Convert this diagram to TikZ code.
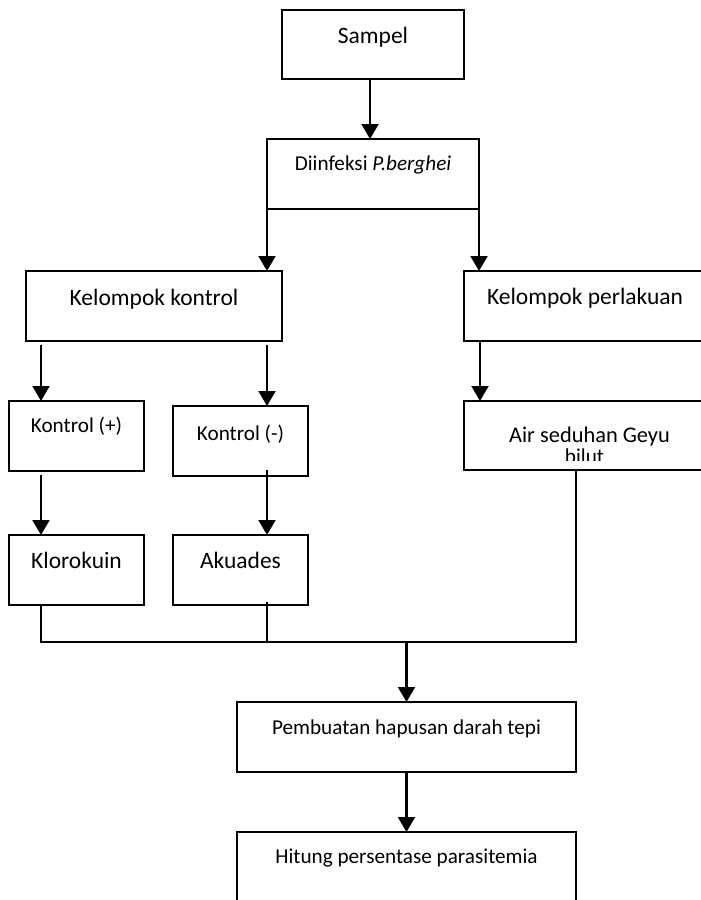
\documentclass[tikz,border=0pt]{standalone}
\usepackage{fontspec}
\setmainfont{Carlito}
\usetikzlibrary{arrows.meta}
\begin{document}
\begin{tikzpicture}[x=1bp,y=-1bp,
  box/.style={draw, line width=1.8bp, rectangle, inner sep=0pt, outer sep=0pt},
  big/.style={font=\fontsize{23.5bp}{28bp}\selectfont},
  small/.style={font=\fontsize{21.2bp}{25bp}\selectfont},
  mid/.style={font=\fontsize{22.4bp}{26bp}\selectfont},
  arr/.style={line width=2.1bp, -{Triangle[width=17bp,length=15bp]}},
  joinline/.style={line width=1.4bp}]
\useasboundingbox (0,0) rectangle (701,900);
% boxes: minimum width/height, text height = top-to-baseline, text depth = rest
\node[box,big,minimum width=182bp,minimum height=69bp,text height=33bp,text depth=36bp] (sampel) at (373,44.5) {Sampel};
\node[box,small,minimum width=212bp,minimum height=70bp,text height=31bp,text depth=39bp] (diinf) at (373,174) {Diinfeksi \textit{P.berghei}};
\node[box,big,minimum width=256bp,minimum height=70bp,text height=34bp,text depth=36bp] (kk) at (154,306) {Kelompok kontrol};
\node[box,big,minimum width=242bp,minimum height=70bp,text height=33bp,text depth=37bp] (kp) at (585,306) {Kelompok perlakuan};
\node[box,small,minimum width=135bp,minimum height=70bp,text height=31bp,text depth=39bp] (kplus) at (76.5,436) {Kontrol (+)};
\node[box,small,minimum width=135bp,minimum height=70bp,text height=34bp,text depth=36bp] (kminus) at (240.5,441) {Kontrol (-)};
\node[box,big,minimum width=135bp,minimum height=70bp,text height=33bp,text depth=37bp] (klor) at (76.5,570) {Klorokuin};
\node[box,big,minimum width=135bp,minimum height=70bp,text height=33bp,text depth=37bp] (akua) at (240.5,570) {Akuades};
\node[box,mid,minimum width=242bp,minimum height=69bp,text height=41bp,text depth=28bp] (air) at (585,435.5) {\hspace*{9bp}Air seduhan Geyu};
\begin{scope}
  \clip (470,440) rectangle (700,460);
  \node[small,inner sep=0pt,anchor=base] (bilut) at (584.5,463) {bilut};
\end{scope}
\node[box,small,minimum width=339bp,minimum height=70bp,text height=32bp,text depth=38bp] (pemb) at (406.5,737) {Pembuatan hapusan darah tepi};
\node[box,small,minimum width=339bp,minimum height=70bp,text height=31bp,text depth=39bp] (hitung) at (406.5,867) {Hitung persentase parasitemia};
% arrows
\draw[arr] ([xshift=-3bp]sampel.south) -- ([xshift=-3bp]sampel.south |- diinf.north);
\draw[arr] (diinf.south west) -- (diinf.south west |- kk.north);
\draw[arr] (diinf.south east) -- (diinf.south east |- kp.north);
\draw[arr] ([xshift=15bp,yshift=-4bp]kk.south west) -- ([xshift=15bp]kk.south west |- kplus.north);
\draw[arr] ([xshift=-15bp,yshift=-4bp]kk.south east) -- ([xshift=-15bp]kk.south east |- kminus.north);
\draw[arr] ([xshift=16bp]kp.south west) -- ([xshift=16bp]kp.south west |- air.north);
\draw[arr] ([xshift=-35.5bp,yshift=-4bp]kplus.south) -- ([xshift=-35.5bp]kplus.south |- klor.north);
\draw[arr] ([xshift=26.5bp,yshift=6bp]kminus.south) -- ([xshift=26.5bp]kminus.south |- akua.north);
% joining lines
\coordinate (jl) at ([xshift=-35.5bp]klor.south |- 0,642);
\coordinate (jr) at ([xshift=-9bp]air.south |- 0,642);
\draw[joinline] ([xshift=-35.5bp]klor.south) -- (jl) -- (jr) -- ([xshift=-9bp]air.south);
\draw[joinline] ([xshift=26.5bp,yshift=3bp]akua.south) -- ([xshift=26.5bp]akua.south |- jl);
\coordinate (jm) at (pemb.north |- jl);
\draw[arr] (jm) -- (pemb.north);
\draw[arr] (pemb.south) -- (hitung.north);
\end{tikzpicture}
\end{document}
